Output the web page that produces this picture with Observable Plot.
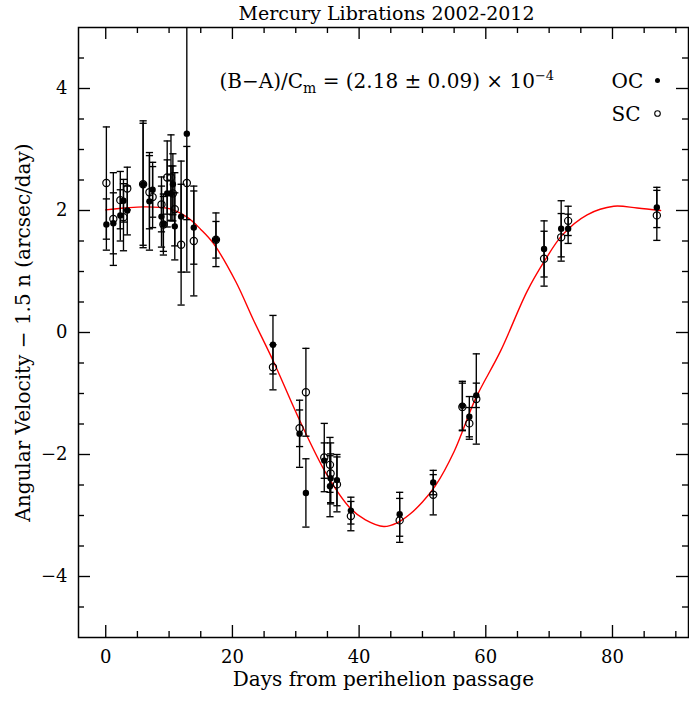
<!DOCTYPE html>
<html><head><meta charset="utf-8">
<script src="https://cdn.jsdelivr.net/npm/d3@7"></script>
<script src="https://cdn.jsdelivr.net/npm/@observablehq/plot@0.6"></script>
<style>body{margin:0;background:#fff} svg{display:block}</style>
</head><body><div id="chart"></div>
<script>
// Days from perihelion passage
const days  = [0.1, 1.2, 2.3, 2.8, 3.4, 5.9, 6.9, 7.4, 8.8, 9.1, 9.7, 10.3, 10.6, 10.9, 11.9, 12.8, 13.9, 17.4,
               26.4, 30.6, 31.6, 34.5, 35.4, 35.5, 36.5, 38.7, 46.4, 51.7, 56.3, 57.4, 58.5, 69.2, 71.9, 73.0, 87.0];
// OC (filled) values and errors
const oc    = [1.77, 1.79, 1.92, 2.16, 2.00, 2.43, 2.15, 2.34, 1.90, 1.78, 2.28, 2.28, 2.43, 1.74, 1.90, 3.26, 1.72, 1.52,
               -0.20, -1.66, -2.63, -2.10, -2.52, -2.39, -2.42, -2.92, -2.98, -2.46, -1.20, -1.38, -1.03, 1.37, 1.70, 1.70, 2.05];
const ocErr = [0.42, 0.50, 0.42, 0.35, 0.40, 1.04, 0.80, 0.45, 0.50, 0.45, 0.55, 0.45, 0.50, 0.55, 0.91, 2.27, 0.60, 0.44,
               0.48, 0.55, 0.56, 0.29, 0.50, 0.40, 0.42, 0.22, 0.36, 0.20, 0.40, 0.33, 0.20, 0.46, 0.46, 0.24, 0.33];
// SC (open) values and errors
const sc    = [2.45, 1.86, 2.17, 1.89, 2.36, 2.43, 2.30, 2.22, 2.10, 1.77, 2.54, 2.54, 2.28, 2.02, 1.44, 2.45, 1.50, 1.52,
               -0.57, -1.57, -0.98, -2.05, -2.17, -2.31, -2.49, -3.01, -3.08, -2.66, -1.22, -1.49, -1.09, 1.21, 1.56, 1.83, 1.92];
const scErr = [0.92, 0.76, 0.47, 0.55, 0.35, 1.00, 0.60, 0.50, 0.45, 0.50, 0.60, 0.70, 0.45, 0.60, 0.99, 0.60, 0.90, 0.30,
               0.37, 0.30, 0.72, 0.56, 0.45, 0.50, 0.45, 0.24, 0.36, 0.33, 0.39, 0.26, 0.74, 0.45, 0.39, 0.24, 0.41];
// Model curve
const curveDays = [0, 3, 6, 10, 13, 15, 17, 20.5, 23.3, 26.5, 30.7, 34.9, 38.6, 41, 43.9, 46, 48, 50, 52, 55, 58.4, 62.3, 66.5, 69.2, 72.1, 76.0, 80.2, 83.9, 87.6];
const curveVals = [2.01, 2.04, 2.06, 2.03, 1.88, 1.69, 1.46, 0.84, 0.21, -0.48, -1.46, -2.33, -2.88, -3.07, -3.18, -3.12, -2.98, -2.78, -2.52, -1.95, -1.08, -0.31, 0.67, 1.16, 1.60, 1.93, 2.07, 2.04, 2.00];
// Tick values
const xMajor = [0, 20, 40, 60, 80];
const xMinor = [5, 10, 15, 25, 30, 35, 45, 50, 55, 65, 70, 75, 85, 90];
const yMajor = [-4, -2, 0, 2, 4];
const yMinor = [-4.5, -3.5, -3, -2.5, -1.5, -1, -0.5, 0.5, 1, 1.5, 2.5, 3, 3.5, 4.5];

const rows = days.map((d, i) => ({d, oc: oc[i], ocErr: ocErr[i], sc: sc[i], scErr: scErr[i]}));
const curve = curveDays.map((d, i) => ({d, v: curveVals[i]}));

const W = 689, H = 715, mL = 78, mR = 1, mT = 27, mB = 78;
const innerH = H - mT - mB, innerW = W - mL - mR;
const majLen = 12, minLen = 6;
const cap = {draw(ctx, size) { const r = Math.sqrt(size / Math.PI); ctx.moveTo(-r, 0); ctx.lineTo(r, 0); }};
const fmt = v => v < 0 ? "\u2212" + (-v) : String(v);
const ink = "black", sw = 1.35;

const plot = Plot.plot({
  width: W, height: H, marginLeft: mL, marginRight: mR, marginTop: mT, marginBottom: mB,
  style: {fontFamily: "DejaVu Serif", fontSize: "18px", background: "white", color: "black"},
  x: {domain: [-4.3, 92]},
  y: {domain: [-5, 5]},
  marks: [
    // inward ticks on all four sides
    Plot.tickX(xMajor, {x: d => d, insetTop: innerH - majLen, stroke: ink, strokeWidth: sw}),
    Plot.tickX(xMinor, {x: d => d, insetTop: innerH - minLen, stroke: ink, strokeWidth: sw}),
    Plot.tickX(xMajor, {x: d => d, insetBottom: innerH - majLen, stroke: ink, strokeWidth: sw}),
    Plot.tickX(xMinor, {x: d => d, insetBottom: innerH - minLen, stroke: ink, strokeWidth: sw}),
    Plot.tickY(yMajor, {y: d => d, insetRight: innerW - majLen, stroke: ink, strokeWidth: sw}),
    Plot.tickY(yMinor, {y: d => d, insetRight: innerW - minLen, stroke: ink, strokeWidth: sw}),
    Plot.tickY(yMajor, {y: d => d, insetLeft: innerW - majLen, stroke: ink, strokeWidth: sw}),
    Plot.tickY(yMinor, {y: d => d, insetLeft: innerW - minLen, stroke: ink, strokeWidth: sw}),
    Plot.axisX({ticks: xMajor, tickSize: 0, tickPadding: 13, label: null, tickFormat: fmt, fontSize: 18}),
    Plot.axisY({ticks: yMajor, tickSize: 0, tickPadding: 11, label: null, tickFormat: fmt, fontSize: 18}),
    // model curve
    Plot.line(curve, {x: "d", y: "v", curve: "catmull-rom", stroke: "#ff0000", strokeWidth: 1.4}),
    // error bars
    Plot.ruleX(rows, {x: "d", y1: r => r.sc - r.scErr, y2: r => r.sc + r.scErr, stroke: ink, strokeWidth: sw, clip: true}),
    Plot.ruleX(rows, {x: "d", y1: r => r.oc - r.ocErr, y2: r => r.oc + r.ocErr, stroke: ink, strokeWidth: sw, clip: true}),
    Plot.dot(rows, {x: "d", y: r => r.sc - r.scErr, symbol: cap, r: 3.6, stroke: ink, strokeWidth: sw, clip: true}),
    Plot.dot(rows, {x: "d", y: r => r.sc + r.scErr, symbol: cap, r: 3.6, stroke: ink, strokeWidth: sw, clip: true}),
    Plot.dot(rows, {x: "d", y: r => r.oc - r.ocErr, symbol: cap, r: 3.6, stroke: ink, strokeWidth: sw, clip: true}),
    Plot.dot(rows, {x: "d", y: r => r.oc + r.ocErr, symbol: cap, r: 3.6, stroke: ink, strokeWidth: sw, clip: true}),
    // points
    Plot.dot(rows, {x: "d", y: "sc", r: 3.6, stroke: ink, fill: "none", strokeWidth: 1.2}),
    Plot.dot(rows, {x: "d", y: "oc", r: 3.2, fill: ink, stroke: "none"}),
    Plot.frame({stroke: ink, strokeWidth: 1.5}),
    // texts
    Plot.text(["Mercury Librations 2002-2012"], {frameAnchor: "top", dx: 3, dy: -8, textAnchor: "middle", lineAnchor: "bottom", fontSize: 19, fill: ink}),
    Plot.text(["Days from perihelion passage"], {frameAnchor: "bottom", dy: 48, textAnchor: "middle", lineAnchor: "bottom", fontSize: 20, fill: ink}),
    Plot.text(["Angular Velocity \u2212 1.5 n (arcsec/day)"], {frameAnchor: "left", dx: -49, rotate: -90, textAnchor: "middle", lineAnchor: "bottom", fontSize: 20, fill: ink}),
    Plot.text(["(B\u2212A)/Cm = (2.18 \u00b1 0.09) \u00d7 10\u22124"], {frameAnchor: "top-left", dx: 141, dy: 60, textAnchor: "start", lineAnchor: "bottom", fontSize: 20, fill: ink}),
    Plot.text(["OC"], {frameAnchor: "top-left", dx: 533, dy: 60, textAnchor: "start", lineAnchor: "bottom", fontSize: 20, fill: ink}),
    Plot.text(["SC"], {frameAnchor: "top-left", dx: 533, dy: 93, textAnchor: "start", lineAnchor: "bottom", fontSize: 20, fill: ink}),
    Plot.dot([0], {frameAnchor: "top-left", dx: 579, dy: 53, r: 2.5, fill: ink}),
    Plot.dot([0], {frameAnchor: "top-left", dx: 579, dy: 86, r: 2.8, stroke: ink, fill: "none", strokeWidth: 1.1})
  ]
});

// subscript / superscript in the annotation
const NS = "http://www.w3.org/2000/svg";
plot.querySelectorAll("text").forEach(t => {
  if (t.textContent.startsWith("(B\u2212A)/Cm")) {
    while (t.firstChild) t.removeChild(t.firstChild);
    const parts = [
      ["(B\u2212A)/C", null, null],
      ["m", "5", "14"],
      [" = (2.18 \u00b1 0.09) \u00d7 10", "-5", null],
      ["\u22124", "-8", "13"]
    ];
    for (const [s, dy, fs] of parts) {
      const sp = document.createElementNS(NS, "tspan");
      sp.textContent = s;
      if (dy) sp.setAttribute("dy", dy);
      if (fs) sp.setAttribute("font-size", fs);
      t.appendChild(sp);
    }
  }
});
document.getElementById("chart").appendChild(plot);
</script>
</body></html>
